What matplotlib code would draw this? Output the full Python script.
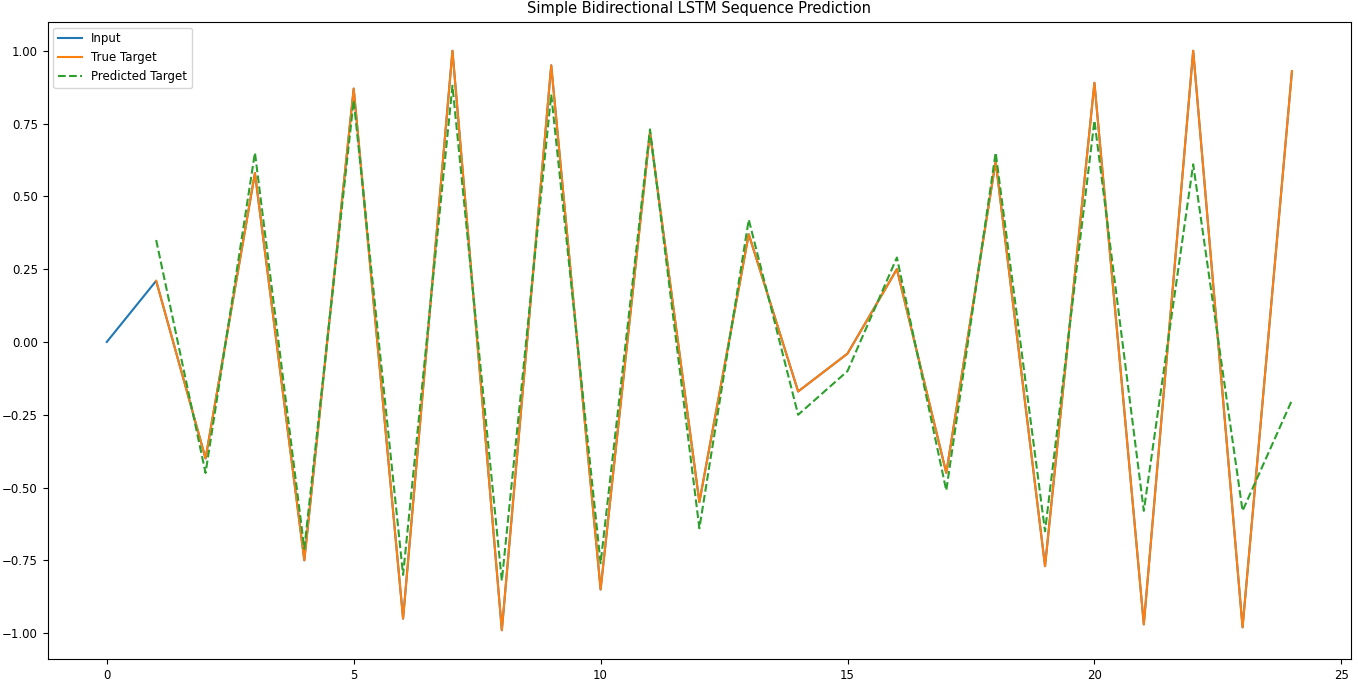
import matplotlib
matplotlib.use("Agg")
import matplotlib.pyplot as plt

plt.rcParams["font.size"] = 8.5

# values
input_x = list(range(0, 25))
true_x = list(range(1, 25))
true_target = [0.21, -0.40, 0.58, -0.75, 0.87, -0.95, 1.00, -0.99, 0.95, -0.85,
               0.72, -0.55, 0.37, -0.17, -0.04, 0.25, -0.45, 0.62, -0.77, 0.89,
               -0.97, 1.00, -0.98, 0.93]
input_seq = [0.0] + true_target
predicted = [0.35, -0.45, 0.65, -0.71, 0.83, -0.80, 0.88, -0.82, 0.85, -0.76,
             0.73, -0.64, 0.42, -0.25, -0.10, 0.29, -0.51, 0.65, -0.65, 0.76,
             -0.58, 0.61, -0.58, -0.20]

fig, ax = plt.subplots(figsize=(13.58, 6.81), dpi=100)
fig.subplots_adjust(left=0.035, right=0.995, top=0.968, bottom=0.032)

ax.plot(input_x, input_seq, label="Input")
ax.plot(true_x, true_target, label="True Target")
ax.plot(true_x, predicted, "--", label="Predicted Target")
ax.set_title("Simple Bidirectional LSTM Sequence Prediction", fontsize=10.5)
ax.legend(loc="upper left")

fig.savefig("out.png")
